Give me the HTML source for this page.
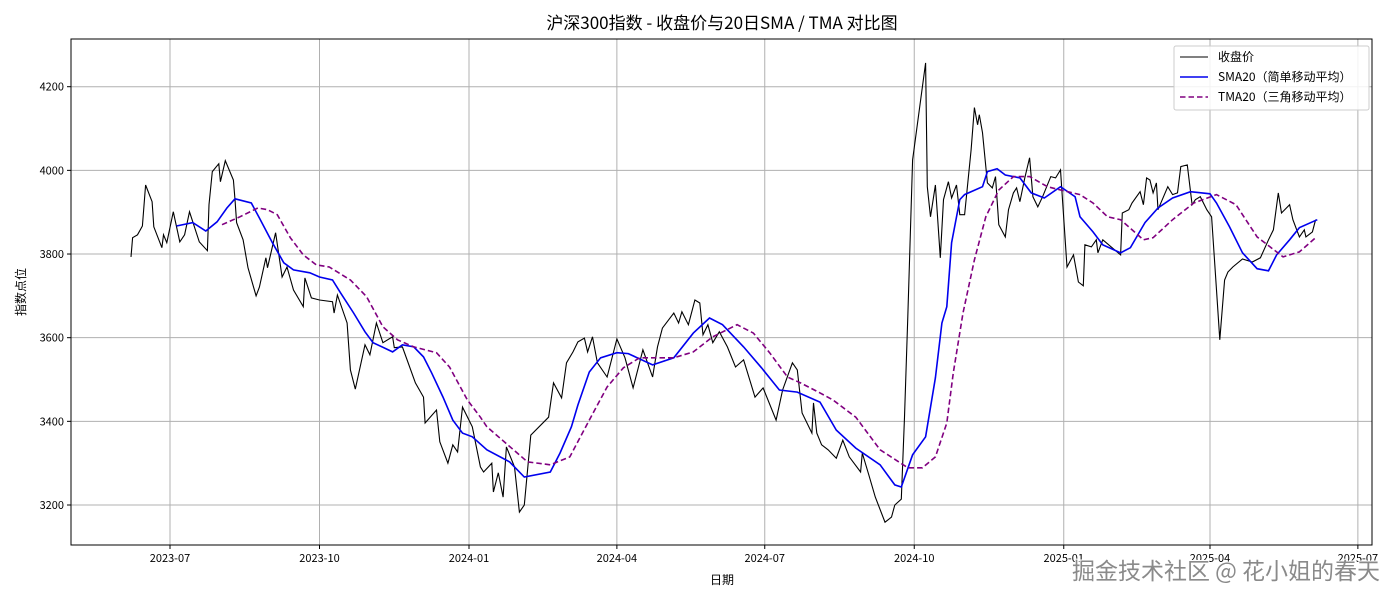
<!DOCTYPE html>
<html><head><meta charset="utf-8">
<style>
body{margin:0;background:#fff;}
svg text{font-family:"WenQuanYi Zen Hei","Noto Sans CJK SC","Liberation Sans",sans-serif;}
</style></head>
<body>
<svg id="chart" width="1400" height="600" xmlns="http://www.w3.org/2000/svg"></svg>
<script>
// days since 2023-07-01
const closeDays=[-24,-23,-20,-17,-15,-11,-10,-5,-4,-2,2,6,9,12,18,23,24,26,30,31,34,39,40,41,45,48,53,55,59,60,65,69,72,76,82,83,87,92,100,101,103,109,111,114,120,123,127,131,137,138,143,151,156,157,164,166,171,174,177,180,186,191,193,198,199,202,205,207,212,215,218,222,233,236,241,244,248,251,255,257,260,263,269,275,280,285,291,297,300,303,310,313,315,319,323,326,328,331,334,338,343,348,353,360,365,373,377,383,386,389,395,396,398,401,405,410,414,418,425,426,430,434,440,444,446,450,452,454,457,465,466,468,471,474,476,479,481,484,486,489,493,495,497,498,500,503,506,508,510,514,516,519,521,523,526,529,531,534,537,542,545,548,552,556,559,562,563,567,570,571,574,585,586,590,592,597,599,601,603,605,607,608,614,617,620,622,626,629,631,634,638,641,644,646,649,651,654,660,666,671,676,679,682,684,689,691,695,698,699,703,705];
const closeVals=[3793,3839,3846,3867,3965,3925,3865,3815,3846,3827,3901,3829,3846,3901,3829,3808,3918,3997,4016,3973,4023,3977,3930,3875,3834,3767,3700,3721,3791,3767,3851,3745,3769,3714,3674,3743,3695,3690,3686,3659,3702,3635,3523,3477,3583,3559,3635,3588,3602,3576,3578,3492,3458,3396,3427,3351,3300,3344,3327,3434,3387,3291,3279,3300,3231,3277,3219,3339,3291,3183,3200,3367,3410,3492,3456,3540,3566,3590,3599,3566,3602,3540,3506,3597,3552,3480,3571,3506,3578,3623,3659,3635,3662,3631,3690,3683,3607,3631,3588,3614,3578,3530,3547,3458,3480,3403,3475,3540,3523,3420,3372,3444,3372,3344,3332,3312,3355,3315,3279,3324,3272,3219,3159,3171,3200,3214,3410,3650,4025,4257,3961,3889,3965,3791,3930,3973,3934,3965,3894,3894,4049,4150,4109,4133,4090,3970,3958,3985,3870,3841,3906,3946,3958,3925,3982,4030,3937,3913,3937,3985,3982,4001,3769,3798,3733,3724,3822,3817,3834,3803,3834,3798,3898,3906,3922,3949,3918,3982,3977,3946,3970,3906,3961,3942,3946,4009,4013,3918,3930,3937,3906,3889,3714,3595,3738,3757,3769,3788,3781,3791,3834,3858,3946,3898,3918,3882,3841,3858,3841,3853,3882];
const smaDays=[4,14,22,29,35,40,50,55,63,70,76,86,92,100,105,113,120,125,137,143,150,156,161,168,174,180,186,195,209,218,234,240,247,251,258,265,275,282,297,310,322,332,340,353,364,375,386,400,410,422,437,446,450,457,465,471,475,478,481,486,489,500,503,509,514,523,530,538,548,557,560,568,574,585,591,600,608,617,628,640,644,652,660,669,676,681,689,695,706];
const smaVals=[3867,3875,3855,3877,3910,3932,3922,3886,3827,3779,3762,3755,3745,3738,3707,3659,3614,3588,3566,3583,3578,3554,3516,3458,3403,3372,3363,3332,3303,3267,3279,3324,3387,3439,3518,3552,3564,3562,3535,3552,3611,3647,3631,3578,3528,3475,3470,3446,3379,3336,3296,3248,3243,3320,3363,3504,3635,3674,3827,3930,3942,3961,3997,4004,3989,3982,3946,3934,3961,3937,3889,3853,3822,3803,3815,3875,3910,3934,3949,3944,3922,3865,3803,3765,3760,3798,3834,3863,3882];
const tmaDays=[32,43,54,60,66,74,82,90,98,111,121,131,140,150,164,172,183,191,195,220,234,246,258,269,279,289,310,322,334,349,359,369,380,388,400,408,422,437,454,463,471,478,482,488,495,502,510,519,529,540,548,560,568,577,585,599,605,617,630,644,656,669,677,685,695,705];
const tmaVals=[3870,3889,3910,3906,3894,3839,3798,3774,3769,3738,3698,3626,3595,3578,3564,3530,3451,3410,3387,3303,3296,3315,3403,3482,3528,3552,3552,3566,3602,3631,3611,3564,3506,3492,3468,3451,3410,3332,3289,3289,3315,3396,3516,3659,3786,3889,3953,3985,3985,3961,3953,3942,3922,3889,3882,3834,3839,3882,3922,3942,3918,3841,3817,3793,3805,3839];
const xTickDays=[0,92,184,275,366,458,550,640,731];
const xTickLabels=["2023-07","2023-10","2024-01","2024-04","2024-07","2024-10","2025-01","2025-04","2025-07"];
const yTicks=[3200,3400,3600,3800,4000,4200];

const NS="http://www.w3.org/2000/svg";
const svg=document.getElementById('chart');
const L=71,R=1372,T=39,B=545;
const xs=d=>170+d*1.625;
const ys=v=>505-(v-3200)*0.4183;
function mk(tag,attrs,parent){const e=document.createElementNS(NS,tag);for(const k in attrs)e.setAttribute(k,attrs[k]);(parent||svg).appendChild(e);return e;}

const grid=mk('g',{});


xTickDays.forEach((d,i)=>{
  const x=xs(d);
  mk('line',{x1:x,x2:x,y1:T,y2:B,stroke:'#b0b0b0','stroke-width':1},grid);
  mk('line',{x1:x,x2:x,y1:B,y2:B+4,stroke:'#000'},grid);
  const t=mk('text',{x:x,y:B+17,'font-size':11,'text-anchor':'middle',fill:'#000'});
  t.textContent=xTickLabels[i];
  
  
});
yTicks.forEach(v=>{
  const y=ys(v);
  mk('line',{x1:L,x2:R,y1:y,y2:y,stroke:'#b0b0b0','stroke-width':1},grid);
  mk('line',{x1:L-4,x2:L,y1:y,y2:y,stroke:'#000'},grid);
  const t=mk('text',{x:L-7,y:y+4,'font-size':11,'text-anchor':'end',fill:'#000'});
  t.textContent=v;
  
  
});

function line(days,vals,attrs,name){
  const p=days.map((d,i)=>xs(d).toFixed(1)+','+ys(vals[i]).toFixed(1)).join(' ');
  const e=mk('polyline',Object.assign({points:p,fill:'none'},attrs));
  
  
}
line(closeDays,closeVals,{stroke:'#000','stroke-width':1.1},'close-line');
line(smaDays,smaVals,{stroke:'#0000ee','stroke-width':1.6},'sma20-line');
line(tmaDays,tmaVals,{stroke:'#800080','stroke-width':1.6,'stroke-dasharray':'5.5,3'},'tma20-line');

const frame=mk('rect',{x:L,y:T,width:R-L,height:B-T,fill:'none',stroke:'#000','stroke-width':1});



const title=mk('text',{x:722,y:29,'font-size':17,'text-anchor':'middle',fill:'#000'});
title.textContent='沪深300指数 - 收盘价与20日SMA / TMA 对比图';


const xl=mk('text',{x:722,y:584,'font-size':12,'text-anchor':'middle',fill:'#000'});
xl.textContent='日期';


const yl=mk('text',{x:25,y:292,'font-size':12,'text-anchor':'middle',fill:'#000',transform:'rotate(-90 25 292)'});
yl.textContent='指数点位';



const lg=mk('g',{});


mk('rect',{x:1174,y:46,width:195,height:64,fill:'#fff','fill-opacity':0.85,stroke:'#ccc',rx:2},lg);
const items=[['收盘价','#000',null,1.1],['SMA20（简单移动平均）','#0000ee',null,1.6],['TMA20（三角移动平均）','#800080','5.5,3',1.6]];
items.forEach((it,i)=>{
  const y=57+i*20;
  const a={x1:1180,x2:1208,y1:y,y2:y,stroke:it[1],'stroke-width':it[3]};
  if(it[2])a['stroke-dasharray']=it[2];
  mk('line',a,lg);
  const t=mk('text',{x:1218,y:y+4,'font-size':12,fill:'#000'},lg);
  t.textContent=it[0];
  
  
});

const wm=mk('text',{x:1380,y:579,'font-size':23,'text-anchor':'end',fill:'#8a8a8a',stroke:'#fff','stroke-width':2,'paint-order':'stroke'});
wm.textContent='掘金技术社区 @ 花小姐的春天';


</script>
</body></html>
